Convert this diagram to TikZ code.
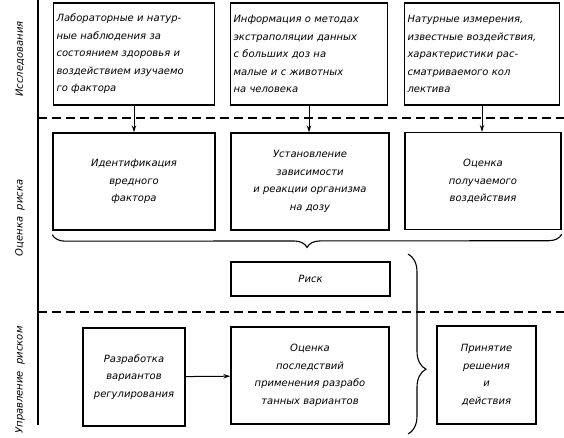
\documentclass[tikz,border=0pt]{standalone}
\usepackage{fontspec}
\setmainfont{DejaVu Sans}
\usetikzlibrary{arrows.meta,decorations.pathreplacing}
\tikzset{
  blok/.style={draw, line width=1.4pt, inner sep=4pt, align=center,
    font=\itshape\fontsize{10}{17.5}\selectfont},
  verh/.style={blok, align=left, inner xsep=3pt, text width=152pt, minimum height=102pt},
  strelka/.style={line width=1pt, -{Stealth[length=7pt,width=4.5pt]}},
  granica/.style={line width=1.1pt, dash pattern=on 9pt off 5pt},
  skobka/.style={line width=1.1pt, decorate, decoration={brace}},
  podpis/.style={rotate=90, font=\itshape\fontsize{10}{12}\selectfont}
}
\begin{document}
\begin{tikzpicture}[x=1pt,y=-1pt]
\useasboundingbox (0,0) rectangle (564,437);
% left rule and section names
\draw[line width=1.2pt] (38,0) -- (38,425);
\node[podpis] (sec1) at (20,59) {Исследования};
\node[podpis] (sec2) at (20,218) {Оценка\ \ риска};
\node[podpis] (sec3) at (20,380) {Управление\ \ риском};
\draw[granica] (38,118) -- (564,118);
\draw[granica] (38,312) -- (564,312);
% first row
\node[verh, text width=155pt] (b1) at (134,54)
  {Лабораторные и натур-\\ные наблюдения за\\состоянием здоровья и\\воздействием изучаемо\\го фактора};
\node[verh, text width=151pt] (b2) at (309,54)
  {Информация о методах\\экстраполяции данных\\с больших доз на\\малые и с животных\\на человека};
\node[verh, text width=149pt] (b3) at (482,54)
  {Натурные измерения,\\известные воздействия,\\характеристики рас-\\сматриваемого кол\\лектива};
% second row
\node[blok, minimum width=162pt, minimum height=97pt] (b4) at (134,181.5)
  {Идентификация\\вредного\\фактора};
\node[blok, minimum width=158pt, minimum height=97pt] (b5) at (310,181.5)
  {Установление\\зависимости\\и реакции организма\\на дозу};
\node[blok, minimum width=156pt, minimum height=97pt] (b6) at (483,181)
  {Оценка\\получаемого\\воздействия};
\foreach \i/\j in {b1/b4,b2/b5,b3/b6}
  \draw[strelka] (\i.south) -- (\i.south |- \j.north);
\draw[skobka, decoration={amplitude=13pt, mirror}] ([yshift=-4pt]b4.south west) -- ([yshift=-4pt]b6.south east);
\node[blok, minimum width=159pt, minimum height=34pt] (risk) at (310.5,279) {Риск};
% third row
\node[blok, minimum width=102pt, minimum height=98pt] (b7) at (134,377)
  {Разработка\\вариантов\\регулирования};
\node[blok, minimum width=158pt, minimum height=97pt] (b8) at (310,375.5)
  {Оценка\\последствий\\применения разрабо\\танных вариантов};
\node[blok, minimum width=99pt, minimum height=98pt] (b9) at (486.5,375)
  {Принятие\\решения\\и\\действия};
\draw[strelka] (b7) -- (b8);
\coordinate (sv) at (408,254);
\coordinate (sn) at (408,434);
\draw[skobka, decoration={amplitude=18pt, aspect=0.64}] (sv) -- (sn);
\end{tikzpicture}
\end{document}
